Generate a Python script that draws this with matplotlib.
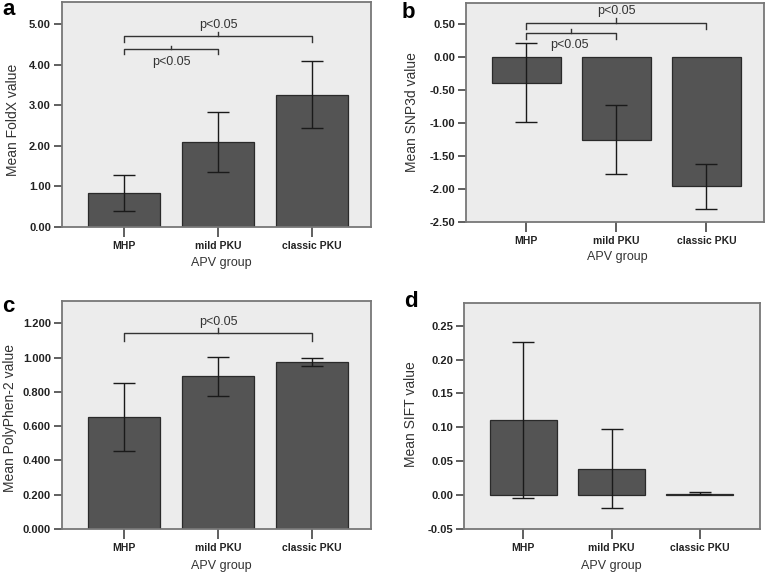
import matplotlib
matplotlib.use("Agg")
import matplotlib.pyplot as plt
import numpy as np

plt.rcParams['font.family'] = ['Liberation Sans', 'DejaVu Sans']

groups = ["MHP", "mild PKU", "classic PKU"]

foldx_mean = [0.84, 2.10, 3.26]
foldx_low = [0.40, 1.35, 2.44]
foldx_high = [1.29, 2.84, 4.09]

snp3d_mean = [-0.39, -1.26, -1.96]
snp3d_low = [-0.99, -1.77, -2.31]
snp3d_high = [0.21, -0.73, -1.62]

poly_mean = [0.654, 0.891, 0.976]
poly_low = [0.456, 0.778, 0.951]
poly_high = [0.854, 1.002, 1.000]

sift_mean = [0.111, 0.039, 0.002]
sift_low = [-0.004, -0.019, 0.001]
sift_high = [0.226, 0.097, 0.004]

W, H = 768, 575
fig = plt.figure(figsize=(W / 100, H / 100), dpi=100)


def px_axes(l, t, r, b):
    return fig.add_axes([l / W, (H - b) / H, (r - l) / W, (b - t) / H])


BG = "#ececec"
BAR = "#545454"
FRAME = "#777777"


def draw_panel(ax, mean, low, high, ylim, yticks, fmt, ylabel, xlim, ylab_xy, xlab_xy):
    x = np.arange(len(groups))
    ax.set_facecolor(BG)
    ax.bar(x, mean, width=0.76, color=BAR, edgecolor="#2a2a2a", linewidth=0.9, zorder=2)
    mean_a = np.array(mean)
    yerr = [mean_a - np.array(low), np.array(high) - mean_a]
    ax.errorbar(x, mean, yerr=yerr, fmt="none", ecolor="#1a1a1a", elinewidth=1.0,
                capsize=8, capthick=1.0, zorder=3)
    ax.set_xlim(*xlim)
    ax.set_ylim(*ylim)
    ax.set_yticks(yticks)
    ax.set_yticklabels([fmt.format(v) for v in yticks], fontsize=8, fontweight="bold",
                       color="#222222")
    ax.set_xticks(x)
    ax.set_xticklabels(groups, fontsize=7.5, fontweight="bold", color="#222222")
    for s in ax.spines.values():
        s.set_color(FRAME)
        s.set_linewidth(1.3)
    ax.tick_params(axis="y", direction="out", length=6, width=1.2, color="#444444",
                   pad=2)
    ax.tick_params(axis="x", direction="out", length=7, width=1.2, color="#444444",
                   pad=3)
    ax.set_ylabel(ylabel, fontsize=10, color="#333333", va="center")
    ax.yaxis.set_label_coords(ylab_xy[0] / W, (H - ylab_xy[1]) / H,
                              transform=fig.transFigure)
    ax.set_xlabel("APV group", fontsize=9, color="#333333", va="center")
    ax.xaxis.set_label_coords(xlab_xy[0] / W, (H - xlab_xy[1]) / H,
                              transform=fig.transFigure)


def bracket(ax, x0, x1, y, drop, tick, text, ty, tx=None):
    xm = (x0 + x1) / 2
    ax.plot([x0, x0, x1, x1], [y - drop, y, y, y - drop], color="#333333", lw=1.0,
            zorder=4, clip_on=False)
    ax.plot([xm, xm], [y, y + tick], color="#333333", lw=1.0, zorder=4, clip_on=False)
    ax.text(xm if tx is None else tx, ty, text, ha="center", va="center", fontsize=9,
            color="#333333")


# Panel a
ax_a = px_axes(62, 2, 371, 227)
draw_panel(ax_a, foldx_mean, foldx_low, foldx_high, (0, 5.55),
           [0, 1, 2, 3, 4, 5], "{:.2f}", "Mean FoldX value", (-0.66, 2.63),
           (13, 120), (221, 263))
bracket(ax_a, 0, 2, 4.71, 0.15, 0.10, "p<0.05", 4.98)
bracket(ax_a, 0, 1, 4.40, 0.14, 0.06, "p<0.05", 4.07)

# Panel b
ax_b = px_axes(466, 3, 764, 222)
draw_panel(ax_b, snp3d_mean, snp3d_low, snp3d_high, (-2.5, 0.82),
           [-2.5, -2.0, -1.5, -1.0, -0.5, 0.0, 0.5], "{:.2f}", "Mean SNP3d value",
           (-0.67, 2.64), (412, 112), (617, 257))
bracket(ax_b, 0, 2, 0.52, 0.09, 0.08, "p<0.05", 0.70)
bracket(ax_b, 0, 1, 0.37, 0.09, 0.06, "p<0.05", 0.18, tx=0.48)

# Panel c
ax_c = px_axes(62, 301, 371, 529)
draw_panel(ax_c, poly_mean, poly_low, poly_high, (0, 1.33),
           [0, 0.2, 0.4, 0.6, 0.8, 1.0, 1.2], "{:.3f}", "Mean PolyPhen-2 value",
           (-0.66, 2.63), (10, 418), (221, 566))
bracket(ax_c, 0, 2, 1.141, 0.043, 0.03, "p<0.05", 1.21)

# Panel d
ax_d = px_axes(464, 303, 760, 529)
draw_panel(ax_d, sift_mean, sift_low, sift_high, (-0.05, 0.2835),
           [-0.05, 0.0, 0.05, 0.10, 0.15, 0.20, 0.25], "{:.2f}", "Mean SIFT value",
           (-0.67, 2.68), (411, 414), (611, 566))

# Panel letters
for lx, ly, s in [(2, 15, "a"), (402, 18, "b"), (2, 312, "c"), (404, 307, "d")]:
    fig.text(lx / W, (H - ly) / H, s, fontsize=16, fontweight="bold", ha="left",
             va="baseline")

fig.savefig("out.png", dpi=100)
